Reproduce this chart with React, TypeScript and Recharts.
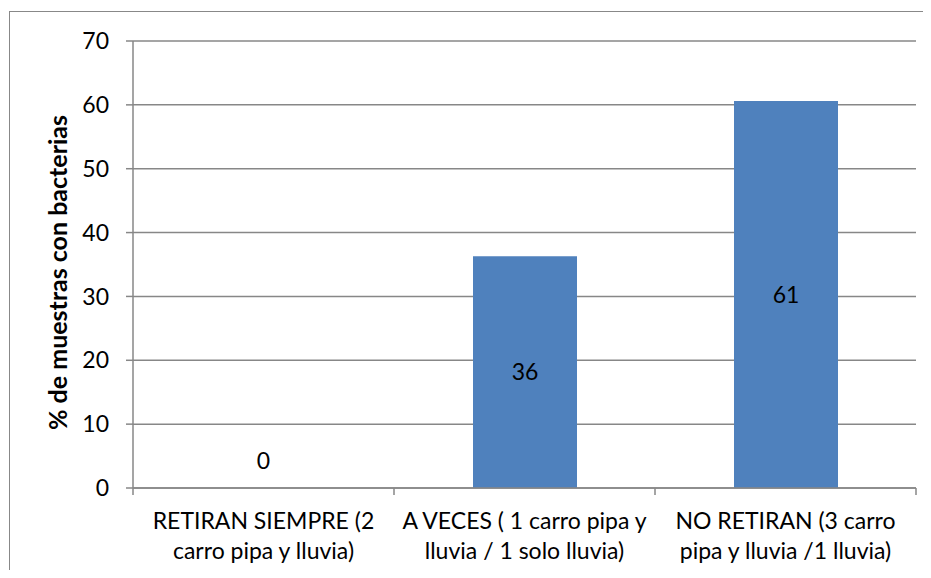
import { Bar, BarChart, CartesianGrid, LabelList, XAxis, YAxis } from "recharts"

// categories, split over two lines as in the original
const categories = [
    "RETIRAN SIEMPRE (2 carro pipa y lluvia)",
    "A VECES ( 1 carro pipa y lluvia / 1 solo lluvia)",
    "NO RETIRAN (3 carro pipa y lluvia /1 lluvia)",
]
const categoryLines = [
    ["RETIRAN SIEMPRE (2", "carro pipa y lluvia)"],
    ["A VECES ( 1 carro pipa y", "lluvia / 1 solo lluvia)"],
    ["NO RETIRAN (3 carro", "pipa y lluvia /1 lluvia)"],
]
const percentages = [0, 36.3, 60.6]
const yTicks = [0, 10, 20, 30, 40, 50, 60, 70]
const yTitle = "% de muestras con bacterias"

const data = categories.map((name, i) => ({ name, value: percentages[i] }))

const W = 931
const H = 578
const AXIS_W = 133
const XAXIS_H = 90
const TOP = 41
const RIGHT = 15
const PLOT_W = W - AXIS_W - RIGHT
const BAND = PLOT_W / categories.length
const BASE_Y = H - XAXIS_H

const FONT = "Lato, 'Liberation Sans', sans-serif"
const FS = 23
const GRAY = "#878787"
const BLUE = "#4F81BD"

function CategoryTick(props: any) {
    const { payload, index } = props
    const cx = payload.coordinate
    const lines = categoryLines[index] || [payload.value]
    const left = cx - BAND / 2
    const right = cx + BAND / 2
    return (
        <g>
            <line x1={left} x2={left} y1={BASE_Y} y2={BASE_Y + 7} stroke={GRAY} strokeWidth={1.5} />
            {index === categories.length - 1 && (
                <line x1={right} x2={right} y1={BASE_Y} y2={BASE_Y + 7} stroke={GRAY} strokeWidth={1.5} />
            )}
            {lines.map((l: string, i: number) => (
                <text key={i} x={cx} y={BASE_Y + 41 + i * 30} textAnchor="middle" fontSize={FS} fontFamily={FONT} fill="#000">
                    {l}
                </text>
            ))}
            {/* zero-height bars get no label from LabelList, so the value is written here */}
            {percentages[index] === 0 && (
                <text x={cx} y={BASE_Y - 19} textAnchor="middle" fontSize={FS} fontFamily={FONT} fill="#000">
                    0
                </text>
            )}
        </g>
    )
}

function BarValue(props: any) {
    const { x, y, width, height, value } = props
    if (!value) return null
    return (
        <text x={x + width / 2} y={y + height / 2} dy={8} textAnchor="middle" fontSize={FS} fontFamily={FONT} fill="#000">
            {Math.round(value)}
        </text>
    )
}

export default function App() {
    const midY = TOP + (BASE_Y - TOP) / 2 + 8
    return (
        <div style={{ position: "relative", margin: -8, width: W, height: H, overflow: "hidden", background: "#fff" }}>
            <div
                style={{
                    position: "absolute",
                    left: 9,
                    top: 11,
                    width: 1000,
                    height: 700,
                    border: "1px solid #888",
                }}
            />
            <div style={{ position: "absolute", left: 0, top: 0 }}>
                <BarChart width={W} height={H} data={data} margin={{ top: TOP, right: RIGHT, bottom: 0, left: 0 }}>
                    <CartesianGrid vertical={false} stroke={GRAY} strokeWidth={1.5} />
                    <XAxis
                        dataKey="name"
                        height={XAXIS_H}
                        interval={0}
                        tickLine={false}
                        axisLine={{ stroke: GRAY, strokeWidth: 1.5 }}
                        tick={<CategoryTick />}
                    />
                    <YAxis
                        width={AXIS_W}
                        domain={[0, 70]}
                        ticks={yTicks}
                        interval={0}
                        tickSize={7}
                        tickMargin={17}
                        tickLine={{ stroke: GRAY, strokeWidth: 1.5 }}
                        axisLine={{ stroke: GRAY, strokeWidth: 1.5 }}
                        tick={{ fontSize: FS, fontFamily: FONT, fill: "#000" }}
                        label={{
                            content: () => (
                                <text
                                    x={67}
                                    y={midY}
                                    transform={`rotate(-90 67 ${midY})`}
                                    textAnchor="middle"
                                    fontSize={25}
                                    fontWeight="bold"
                                    fontFamily={FONT}
                                    fill="#000"
                                >
                                    {yTitle}
                                </text>
                            ),
                        }}
                    />
                    <Bar dataKey="value" fill={BLUE} barSize={104} isAnimationActive={false}>
                        <LabelList dataKey="value" content={<BarValue />} />
                    </Bar>
                </BarChart>
            </div>
        </div>
    )
}
